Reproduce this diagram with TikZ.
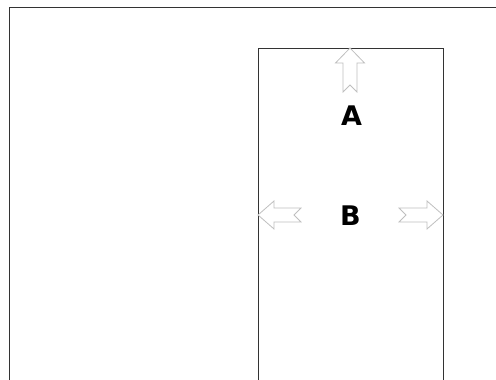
\documentclass[tikz,border=0pt]{standalone}
\usepackage{fontspec}
\setmainfont{DejaVu Sans}
\begin{document}
\begin{tikzpicture}[x=1pt,y=1pt,
  frame/.style={draw=black!80,line width=0.9pt},
  hollowarrow/.style={draw=black!25,line width=0.8pt,fill=white,line join=miter},
  lbl/.style={font=\fontsize{27}{27}\selectfont\bfseries,inner sep=0pt}]
\useasboundingbox (0,0) rectangle (496,380);
% outer frame (clipped at right and bottom)
\draw[frame] (9,0) -- (9,373) -- (496,373);
% inner box
\draw[frame] (258,0) -- (258,332) -- (443,332) -- (443,0);
% up arrow
\draw[hollowarrow] (350,332) -- (364.5,317) -- (357,317) -- (357,288) -- (350,295) -- (343,288) -- (343,317) -- (335.5,317) -- cycle;
% left arrow
\draw[hollowarrow] (258,165) -- (274,179) -- (274,172) -- (301,172) -- (294,165) -- (301,158) -- (274,158) -- (274,151) -- cycle;
% right arrow
\draw[hollowarrow] (443,165) -- (427,179) -- (427,172) -- (399,172) -- (406,165) -- (399,158) -- (427,158) -- (427,151) -- cycle;
\node[lbl] (A) at (351.5,264) {A};
\node[lbl] (B) at (350.5,164) {B};
\end{tikzpicture}
\end{document}
